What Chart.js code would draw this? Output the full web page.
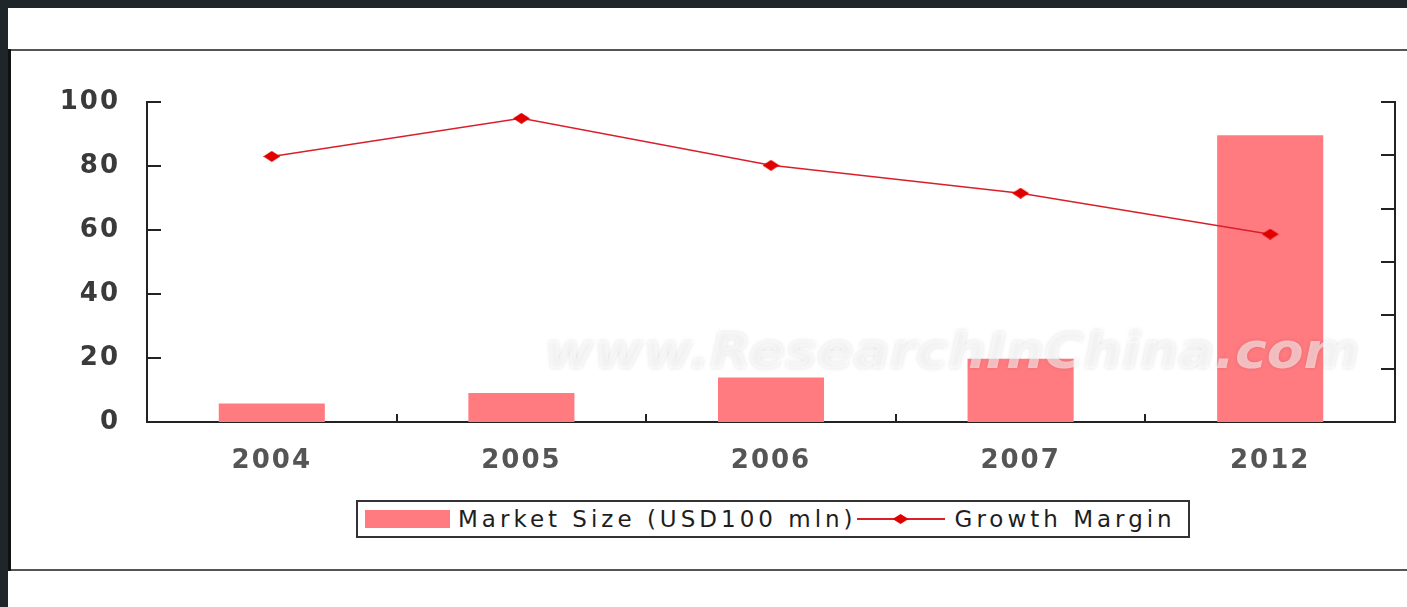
<!DOCTYPE html>
<html>
<head>
<meta charset="utf-8">
<script src="https://cdn.jsdelivr.net/npm/chart.js@4/dist/chart.umd.min.js"></script>
<style>
  html, body { margin: 0; padding: 0; }
  body { width: 1407px; height: 607px; background: #1f2629; position: relative; overflow: hidden; font-family: 'DejaVu Sans', sans-serif; }
  .panel { position: absolute; left: 8px; top: 8px; right: 0; bottom: 0; background: #fff; }
  .hline { position: absolute; left: 8px; right: 0; height: 2px; background: #555; }
  .vline { position: absolute; left: 8px; top: 49px; width: 3px; height: 522px; background: #111; }
  #chart-wrap { position: absolute; left: 0; top: 0; width: 1407px; height: 607px; }
  .legend { position: absolute; left: 356px; top: 500px; height: 34px; border: 2px solid #333; background: #fff;
            display: flex; align-items: center; padding: 0 12px 0 7px; font-size: 23px; letter-spacing: 4px; color: #1e1e1e; }
  .swatch { width: 85px; height: 18px; background: #ff7b80; margin-right: 8px; }
  .linekey { position: relative; width: 88px; height: 18px; margin: 0 10px 0 0; }
  .linekey .ln { position: absolute; left: 0; right: 0; top: 8px; height: 2px; background: #d9202a; }
  .linekey .dm { position: absolute; left: 36px; top: 4px; width: 16px; height: 10px;
                 background: #e00000; clip-path: polygon(50% 0, 100% 50%, 50% 100%, 0 50%); }
</style>
</head>
<body>
<div class="panel"></div>
<div class="hline" style="top:49px"></div>
<div class="hline" style="top:569px"></div>
<div class="vline"></div>
<div id="chart-wrap"><canvas id="chart"></canvas></div>
<div class="legend">
  <div class="swatch"></div><span>Market Size (USD100 mln)</span>
  <div class="linekey"><div class="ln"></div><div class="dm"></div></div><span>Growth Margin</span>
</div>
<script>
// values
const years = ['2004', '2005', '2006', '2007', '2012'];
const marketSize = [5.8, 9.1, 13.9, 19.8, 89.6];
const growthMargin = [83, 94.9, 80.2, 71.5, 58.7];
const leftAxisMax = 100;
const leftAxisStep = 20;
const rightAxisSteps = 6;
const watermark = 'www.ResearchInChina.com';

// the original markers are wide, flat diamonds
function makeDiamond(w, h, color) {
    const c = document.createElement('canvas');
    c.width = w;
    c.height = h;
    const g = c.getContext('2d');
    g.fillStyle = color;
    g.beginPath();
    g.moveTo(w / 2, 0);
    g.lineTo(w, h / 2);
    g.lineTo(w / 2, h);
    g.lineTo(0, h / 2);
    g.closePath();
    g.fill();
    return c;
}
const diamond = makeDiamond(17, 11, '#e00000');

// small ticks pointing into the plot area, like the original
const innerTicks = {
    id: 'innerTicks',
    afterDraw(chart) {
        const { ctx, chartArea, scales } = chart;
        ctx.save();
        ctx.strokeStyle = '#222';
        ctx.lineWidth = 2;
        ctx.beginPath();
        scales.y.ticks.forEach((t, i) => {
            const py = Math.round(scales.y.getPixelForTick(i));
            ctx.moveTo(chartArea.left, py);
            ctx.lineTo(chartArea.left + 14, py);
        });
        scales.y2.ticks.forEach((t, i) => {
            const py = Math.round(scales.y2.getPixelForTick(i));
            ctx.moveTo(chartArea.right, py);
            ctx.lineTo(chartArea.right - 14, py);
        });
        for (let i = 1; i < years.length; i++) {
            const px = Math.round((scales.x.getPixelForTick(i - 1) + scales.x.getPixelForTick(i)) / 2);
            ctx.moveTo(px, chartArea.bottom);
            ctx.lineTo(px, chartArea.bottom - 8);
        }
        ctx.stroke();
        ctx.restore();
    },
};

const wideText = {
    id: 'wideText',
    beforeDraw(chart) { chart.ctx.letterSpacing = '2px'; },
    afterDraw(chart) { chart.ctx.letterSpacing = '0px'; },
};

const watermarkPlugin = {
    id: 'watermark',
    afterDatasetsDraw(chart) {
        const ctx = chart.ctx;
        ctx.save();
        ctx.letterSpacing = '0px';
        ctx.font = 'italic bold 50px "DejaVu Sans"';
        const w = ctx.measureText(watermark).width;
        ctx.translate(952, 368);
        ctx.scale(815 / w, 1);
        ctx.textAlign = 'center';
        ctx.textBaseline = 'alphabetic';
        ctx.shadowColor = 'rgba(0,0,0,0.22)';
        ctx.shadowBlur = 4;
        ctx.fillStyle = 'rgba(255,255,255,0.55)';
        ctx.fillText(watermark, 0, 0);
        ctx.restore();
    },
};

new Chart(document.getElementById('chart'), {
    type: 'bar',
    data: {
        labels: years,
        datasets: [
            {
                label: 'Growth Margin',
                type: 'line',
                data: growthMargin,
                yAxisID: 'y',
                borderColor: '#d9202a',
                borderWidth: 1.5,
                pointStyle: diamond,
                tension: 0,
                fill: false,
                order: 0,
            },
            {
                label: 'Market Size (USD100 mln)',
                data: marketSize,
                yAxisID: 'y',
                backgroundColor: '#ff7b80',
                categoryPercentage: 1,
                barPercentage: 0.425,
                order: 1,
            },
        ],
    },
    options: {
        responsive: true,
        maintainAspectRatio: false,
        animation: false,
        events: [],
        layout: { padding: { left: 0, right: 12, top: 102, bottom: 125 } },
        plugins: {
            legend: { display: false },
            tooltip: { enabled: false },
        },
        scales: {
            x: {
                grid: { display: false, drawTicks: false },
                border: { display: true, color: '#222', width: 2 },
                ticks: { color: '#555', padding: 24, font: { family: 'DejaVu Sans', size: 26, weight: 'bold' } },
                afterFit(scale) { scale.height = 60; },
            },
            y: {
                min: 0,
                max: leftAxisMax,
                grid: { display: false, drawTicks: false },
                border: { display: true, color: '#222', width: 2 },
                ticks: { stepSize: leftAxisStep, color: '#3a3a3a', padding: 27, font: { family: 'DejaVu Sans', size: 26, weight: 'bold' } },
                afterFit(scale) { scale.width = 147; },
            },
            y2: {
                position: 'right',
                min: 0,
                max: rightAxisSteps,
                grid: { display: false, drawTicks: false },
                border: { display: true, color: '#222', width: 2 },
                ticks: { stepSize: 1, display: false },
                afterFit(scale) { scale.width = 0; },
            },
        },
    },
    plugins: [wideText, watermarkPlugin, innerTicks],
});
</script>
</body>
</html>
